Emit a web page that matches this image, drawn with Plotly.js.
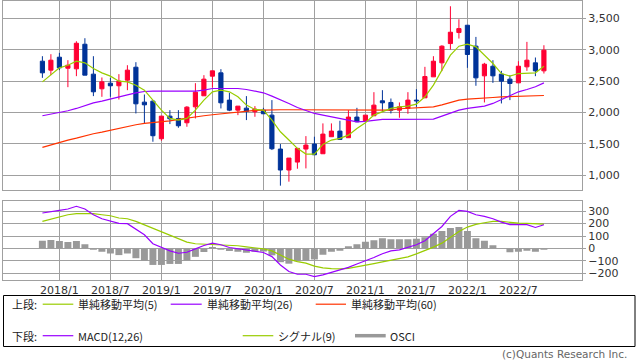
<!DOCTYPE html>
<html><head><meta charset="utf-8">
<script src="https://cdn.plot.ly/plotly-3.0.1.min.js"></script>
<style>html,body{margin:0;padding:0;background:#fff;} #chart{width:638px;height:362px;}</style>
</head><body><div id="chart"></div>
<script>
// ---- data (monthly) ----
const months = ['2017/11','2017/12',
 '2018/1','2018/2','2018/3','2018/4','2018/5','2018/6','2018/7','2018/8','2018/9','2018/10','2018/11','2018/12',
 '2019/1','2019/2','2019/3','2019/4','2019/5','2019/6','2019/7','2019/8','2019/9','2019/10','2019/11','2019/12',
 '2020/1','2020/2','2020/3','2020/4','2020/5','2020/6','2020/7','2020/8','2020/9','2020/10','2020/11','2020/12',
 '2021/1','2021/2','2021/3','2021/4','2021/5','2021/6','2021/7','2021/8','2021/9','2021/10','2021/11','2021/12',
 '2022/1','2022/2','2022/3','2022/4','2022/5','2022/6','2022/7','2022/8','2022/9','2022/10'];

const openP  = [2819,2676,2883,2707,2697,3090,2612,2378,2468,2426,2516,2723,2165,2181,1580,1941,1904,1835,2090,2266,
                2580,2633,2197,2037,2069,2011,2037,1957,1415,1080,1207,1415,1495,1340,1612,1702,1596,1926,1867,1947,
                2186,2160,2037,2064,2197,2234,2569,2793,3101,3277,3394,3059,2585,2739,2612,2532,2473,2729,2793,2665];
const highP  = [2899,2931,2952,2835,3138,3186,2899,2559,2553,2612,2755,2803,2287,2190,1945,2037,2037,2101,2468,2596,
                2665,2692,2314,2101,2261,2101,2074,2197,1495,1271,1426,1622,1612,1825,1825,1867,2037,2074,1957,2324,
                2356,2223,2160,2324,2372,2729,2899,3074,3697,3489,3394,3207,2793,2835,2665,2596,2819,3128,2878,3074];
const lowP   = [2553,2596,2676,2404,2580,2596,2261,2250,2250,2207,2356,1984,1824,1532,1548,1814,1755,1771,1904,2266,
                2399,2064,2021,1957,1878,1931,1979,1399, 830, 894,1101,1106,1324,1340,1612,1569,1596,1851,1867,1947,
                2011,1984,1915,1979,2090,2234,2569,2660,3005,3181,2713,2426,2160,2473,2144,2197,2473,2665,2580,2622];
const closeP = [2633,2835,2713,2755,3106,2596,2330,2489,2426,2500,2676,2138,2122,1628,1941,1899,1787,2085,2324,2532,
                2665,2154,2037,2101,2016,2053,1979,1420,1080,1271,1426,1479,1324,1654,1702,1569,1926,1851,1957,2117,
                2154,2037,2090,2197,2186,2574,2819,3059,3282,3340,2926,2553,2771,2585,2500,2463,2739,2835,2665,2995];

const ma5  = [2489,2596,2713,2755,2819,2793,2702,2633,2580,2500,2489,2436,2356,2197,2037,1904,1878,1904,2037,2197,
              2330,2356,2330,2250,2117,2048,2037,1878,1691,1559,1426,1335,1335,1490,1559,1585,1638,1745,1835,1957,
              2011,2064,2090,2101,2133,2250,2436,2676,2915,3059,3090,3048,2915,2782,2622,2580,2622,2622,2633,2739];
const ma26 = [1947,1973,2000,2027,2064,2106,2154,2181,2218,2250,2282,2314,2335,2340,2340,2340,2340,2340,2340,2356,
              2383,2383,2383,2383,2367,2346,2314,2261,2207,2144,2080,2037,1984,1957,1931,1894,1867,1851,1856,1878,
              1888,1888,1890,1890,1890,1890,1894,1941,1995,2037,2064,2080,2101,2144,2207,2277,2330,2367,2410,2473];
const ma60 = [1442,1484,1521,1559,1590,1628,1660,1686,1718,1750,1782,1803,1824,1835,1846,1867,1888,1910,1931,1947,
              1963,1979,1995,2011,2021,2032,2037,2043,2043,2043,2043,2043,2043,2037,2037,2037,2037,2037,2037,2037,
              2037,2037,2059,2064,2069,2080,2090,2122,2165,2197,2213,2218,2229,2239,2250,2255,2261,2266,2266,2271];

const macd   = [285,298,306,317,339,317,271,239,218,202,199,151,110,38,8,-19,-38,-30,-3,24,
                43,30,8,-3,-13,-19,-32,-65,-132,-185,-207,-207,-226,-212,-191,-175,-152,-125,-100,-72,
                -42,-19,-11,8,30,62,116,177,258,306,298,271,258,239,212,191,191,191,169,191];
const signal = [218,237,255,271,280,282,280,271,263,245,239,218,191,159,132,105,78,51,38,35,
                32,32,30,22,13,8,-3,-19,-51,-86,-105,-118,-142,-156,-161,-164,-159,-148,-134,-121,
                -108,-94,-81,-67,-43,-19,11,43,89,137,172,194,207,218,218,210,204,202,196,196];
const osci   = [62,68,60,52,60,34,-10,-26,-41,-53,-41,-78,-100,-132,-132,-124,-124,-97,-67,-28,
                12,-10,-20,-26,-34,-26,-25,-55,-110,-122,-102,-100,-88,-51,-27,-19,19,35,54,67,
                83,75,75,75,78,91,118,140,164,172,140,83,62,27,0,-30,-27,-19,-27,-11];

const tickMonths = ['2018/1','2018/7','2019/1','2019/7','2020/1','2020/7','2021/1','2021/7','2022/1','2022/7'];

const legendTop = [['上段:', null], ['単純移動平均(5)', '#99cc00'], ['単純移動平均(26)', '#9900ff'], ['単純移動平均(60)', '#ff3300']];
const legendBottom = [['下段:', null], ['MACD(12,26)', '#9900ff'], ['シグナル(9)', '#99cc00'], ['OSCI', '#999999']];
const copyright = '(c)Quants Research Inc.';

// ---- colours ----
const UP = '#ff0033', DOWN = '#003399', GRID = '#a0a0a0';

// ---- traces ----
const traces = [
  {type:'candlestick', x:months, open:openP, high:highP, low:lowP, close:closeP,
   xaxis:'x', yaxis:'y', whiskerwidth:0, hoverinfo:'none',
   increasing:{line:{color:UP,width:1}, fillcolor:UP},
   decreasing:{line:{color:DOWN,width:1}, fillcolor:DOWN}},
  {type:'scatter', mode:'lines', x:months, y:ma60, xaxis:'x', yaxis:'y', line:{color:'#ff3300', width:1.2}, hoverinfo:'none'},
  {type:'scatter', mode:'lines', x:months, y:ma26, xaxis:'x', yaxis:'y', line:{color:'#9900ff', width:1.2}, hoverinfo:'none'},
  {type:'scatter', mode:'lines', x:months, y:ma5,  xaxis:'x', yaxis:'y', line:{color:'#99cc00', width:1.2}, hoverinfo:'none'},
  {type:'bar', x:months, y:osci, xaxis:'x2', yaxis:'y2', marker:{color:'#999999', line:{width:0}}, hoverinfo:'none'},
  {type:'scatter', mode:'lines', x:months, y:signal, xaxis:'x2', yaxis:'y2', line:{color:'#99cc00', width:1.2}, hoverinfo:'none'},
  {type:'scatter', mode:'lines', x:months, y:macd,   xaxis:'x2', yaxis:'y2', line:{color:'#9900ff', width:1.2}, hoverinfo:'none'}
];

// ---- layout helpers (pixel -> paper) ----
const L = 3, R = 56, T = 1, B = 82, W = 638, H = 362;
const PW = W - L - R, PH = H - T - B;
const px = v => (v - L) / PW;
const py = v => (H - B - v) / PH;

const xCommon = {type:'category', range:[-4.635, 63.48], tickmode:'array', tickvals:tickMonths, ticktext:tickMonths,
  showgrid:true, gridcolor:GRID, gridwidth:1, showline:true, mirror:true, linecolor:GRID, linewidth:1,
  ticks:'', zeroline:false, fixedrange:true};
const yCommon = {side:'right', showgrid:true, gridcolor:GRID, gridwidth:1, showline:true, mirror:true,
  linecolor:GRID, linewidth:1, ticks:'outside', ticklen:3, tickcolor:GRID, zeroline:false, fixedrange:true,
  tickfont:{family:'DejaVu Sans', size:11, color:'#333'}};

const shapes = [
  {type:'rect', xref:'paper', yref:'paper', x0:px(3.5), x1:px(635), y0:py(346.5), y1:py(295.5),
   line:{color:'#000', width:1}, fillcolor:'rgba(0,0,0,0)'}
];
const annotations = [];
function addRow(items, yPix, lineX, textX) {
  items.forEach((it, k) => {
    annotations.push({xref:'paper', yref:'paper', x:px(textX[k]), y:py(yPix), xanchor:'left', yanchor:'middle',
      text:it[0], showarrow:false, borderpad:0, borderwidth:0,
      font:{family:'Noto Sans CJK JP', size:11, color:'#222'}});
    if (it[1]) {
      const lx = lineX[k];
      shapes.push({type:'line', xref:'paper', yref:'paper', x0:px(lx[0]), x1:px(lx[1]), y0:py(yPix), y1:py(yPix),
        line:{color:it[1], width: it[0]==='OSCI' ? 3.5 : 1.2}});
    }
  });
}
addRow(legendTop, 304.2, [null,[42.7,73.3],[170.7,201.7],[315.7,346]], [11.7,78.3,206.7,350.7]);
addRow(legendBottom, 335.7, [null,[42.7,73.3],[242.7,273.3],[355,385.7]], [11.7,78.3,278.3,390]);
annotations.push({xref:'paper', yref:'paper', x:px(627), y:py(353.7), xanchor:'right', yanchor:'middle',
  text:copyright, showarrow:false, borderpad:0, borderwidth:0,
  font:{family:'DejaVu Sans', size:10.5, color:'#666'}});

const layout = {
  width:W, height:H, margin:{l:L, r:R, t:T, b:B, pad:0},
  paper_bgcolor:'#fff', plot_bgcolor:'#fff', showlegend:false,
  font:{family:'DejaVu Sans', size:11, color:'#333'},
  boxgap:0.3, bargap:0.18, hovermode:false,
  xaxis:Object.assign({}, xCommon, {domain:[0,1], anchor:'y', showticklabels:false, rangeslider:{visible:false}}),
  yaxis:Object.assign({}, yCommon, {domain:[py(190.3),1], anchor:'x', range:[756,3781], tick0:0, dtick:500, tickformat:',d'}),
  xaxis2:Object.assign({}, xCommon, {domain:[0,1], anchor:'y2', showticklabels:true,
    tickfont:{family:'DejaVu Sans', size:11, color:'#333'}}),
  yaxis2:Object.assign({}, yCommon, {domain:[0, py(201.3)], anchor:'x2', range:[-253,379], tick0:0, dtick:100}),
  shapes:shapes, annotations:annotations
};

Plotly.newPlot('chart', traces, layout, {staticPlot:true, displayModeBar:false});
</script></body></html>
